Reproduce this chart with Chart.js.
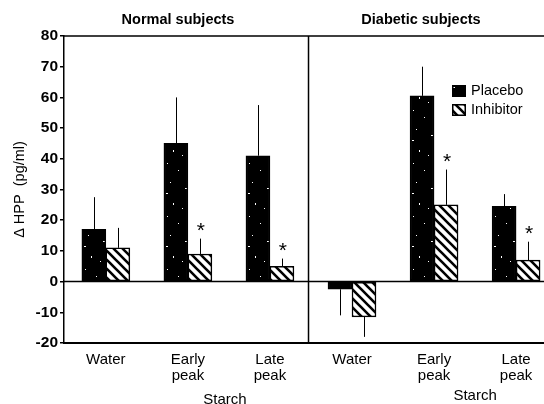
<!DOCTYPE html>
<html>
<head>
<meta charset="utf-8">
<script src="https://cdn.jsdelivr.net/npm/chart.js@4.4.1/dist/chart.umd.min.js"></script>
<style>
  html, body { margin: 0; padding: 0; background: #fff; }
</style>
</head>
<body>
<canvas id="hpp" width="544" height="404"></canvas>
<script>
// data
var categories = ['Water', ['Early', 'peak'], ['Late', 'peak'], 'Water', ['Early', 'peak'], ['Late', 'peak']];
var groups = ['Normal subjects', 'Diabetic subjects'];
var groupLabel = 'Starch';
var placebo = [17, 45, 41, -2.5, 60.5, 24.5];
var placeboErr = [10.5, 15, 16.5, 8.5, 9.5, 4];
var inhibitor = [11, 9, 5, -11.5, 25, 7];
var inhibitorErr = [6.5, 5, 2.5, 6.5, 11.5, 6];
var inhibitorSig = [false, true, true, false, true, true];
var yMin = -20, yMax = 80, yStep = 10;

var plain = '"Liberation Sans", Arial, sans-serif';

var ctx = document.getElementById('hpp').getContext('2d');

function speckle() {
    var w = 41, h = 53;
    var c = document.createElement('canvas');
    c.width = w; c.height = h;
    var g = c.getContext('2d');
    g.fillStyle = '#000';
    g.fillRect(0, 0, w, h);
    g.fillStyle = '#fff';
    [[3, 4, 1, 1], [27, 2, 2, 1], [14, 11, 1, 1], [35, 17, 1, 2], [6, 23, 1, 1], [21, 29, 2, 1],
     [31, 38, 1, 1], [9, 44, 1, 2], [18, 49, 1, 1], [38, 47, 1, 1], [25, 15, 1, 1], [2, 34, 2, 1]].forEach(function (p) {
        g.fillRect(p[0], p[1], p[2], p[3]);
    });
    return ctx.createPattern(c, 'repeat');
}

function hatch() {
    var s = 9;
    var c = document.createElement('canvas');
    c.width = s; c.height = s;
    var g = c.getContext('2d');
    g.fillStyle = '#fff';
    g.fillRect(0, 0, s, s);
    g.strokeStyle = '#000';
    g.lineWidth = 2.6;
    g.beginPath();
    g.moveTo(-2, -2); g.lineTo(s + 2, s + 2);
    g.moveTo(-2, s - 2); g.lineTo(2, s + 2);
    g.moveTo(s - 2, -2); g.lineTo(s + 2, 2);
    g.stroke();
    return ctx.createPattern(c, 'repeat');
}

var fills = [speckle(), hatch()];

var decor = {
    id: 'decor',
    afterDatasetsDraw: function (chart) {
        var c = chart.ctx, a = chart.chartArea, x = chart.scales.x, y = chart.scales.y;
        c.save();
        c.strokeStyle = '#000';

        // frame: top, zero line, panel divider
        c.lineWidth = 1.5;
        c.beginPath();
        c.moveTo(a.left, a.top); c.lineTo(a.right, a.top);
        var y0 = y.getPixelForValue(0);
        c.moveTo(a.left, y0); c.lineTo(a.right, y0);
        var xd = x.getPixelForValue(2.47);
        c.moveTo(xd, a.top); c.lineTo(xd, a.bottom);
        c.stroke();

        // error bars (one side only, away from zero)
        c.lineWidth = 1;
        [[placebo, placeboErr], [inhibitor, inhibitorErr]].forEach(function (s, di) {
            var meta = chart.getDatasetMeta(di);
            s[0].forEach(function (v, i) {
                var tip = v < 0 ? v - s[1][i] : v + s[1][i];
                var px = Math.round(meta.data[i].x) + 0.5;
                c.beginPath();
                c.moveTo(px, y.getPixelForValue(v));
                c.lineTo(px, y.getPixelForValue(tip));
                c.stroke();
            });
        });

        // significance stars
        c.fillStyle = '#000';
        c.font = '21px ' + plain;
        c.textAlign = 'center';
        c.textBaseline = 'alphabetic';
        var m = c.measureText('*');
        var mid = (m.actualBoundingBoxAscent - m.actualBoundingBoxDescent) / 2;
        var meta1 = chart.getDatasetMeta(1);
        inhibitorSig.forEach(function (sig, i) {
            if (!sig) return;
            var tip = y.getPixelForValue(inhibitor[i] + inhibitorErr[i]);
            c.fillText('*', meta1.data[i].x + 1, tip - 12 + mid);
        });

        // panel titles
        c.font = 'bold 14.5px ' + plain;
        c.textBaseline = 'middle';
        c.fillText(groups[0], 178, 20);
        c.fillText(groups[1], 421, 20);

        // "Starch" under the early/late pairs
        c.font = '15px ' + plain;
        var sx0 = (x.getPixelForValue(1) + x.getPixelForValue(2)) / 2 - 4;
        var sx1 = (x.getPixelForValue(4) + x.getPixelForValue(5)) / 2;
        c.fillText(groupLabel, sx0, 400);
        c.fillText(groupLabel, sx1, 395.5);

        // legend
        var names = ['Placebo', 'Inhibitor'];
        c.textAlign = 'left';
        c.font = '14.5px ' + plain;
        names.forEach(function (n, i) {
            var by = 85 + i * 19;
            c.fillStyle = fills[i];
            c.fillRect(452, by, 14, 12);
            c.lineWidth = 1.5;
            c.strokeRect(452.75, by + 0.75, 12.5, 10.5);
            c.fillStyle = '#000';
            c.fillText(n, 471, by + 6);
        });
        c.restore();
    }
};

new Chart(ctx, {
    type: 'bar',
    data: {
        datasets: [{
            label: 'Placebo',
            data: placebo.map(function (v, i) { return { x: i, y: v }; }),
            backgroundColor: fills[0],
            borderColor: '#000',
            borderWidth: 1.5,
            borderSkipped: false
        }, {
            label: 'Inhibitor',
            data: inhibitor.map(function (v, i) { return { x: i, y: v }; }),
            backgroundColor: fills[1],
            borderColor: '#000',
            borderWidth: 1.5,
            borderSkipped: false
        }]
    },
    options: {
        responsive: false,
        animation: false,
        barThickness: 24,
        layout: { padding: { top: 36, left: 0, right: 0, bottom: 0 } },
        plugins: { legend: { display: false }, tooltip: { enabled: false } },
        scales: {
            x: {
                type: 'linear',
                min: -0.51,
                max: 5.34,
                offset: false,
                afterBuildTicks: function (s) {
                    s.ticks = categories.map(function (c, i) { return { value: i }; });
                },
                afterFit: function (s) { s.height = 61; },
                grid: { display: false, drawTicks: false },
                border: { display: true, color: '#000', width: 2 },
                ticks: {
                    autoSkip: false,
                    maxRotation: 0,
                    padding: 9,
                    color: '#000',
                    font: { family: plain, size: 15, lineHeight: 1.07 },
                    callback: function (v) { return categories[v]; }
                }
            },
            y: {
                min: yMin,
                max: yMax,
                afterFit: function (s) { s.width = 64; },
                grid: { drawOnChartArea: false, drawTicks: true, tickLength: 4, color: '#000', lineWidth: 1.5 },
                border: { display: true, color: '#000', width: 1.5 },
                ticks: {
                    stepSize: yStep,
                    padding: 2,
                    color: '#000',
                    font: { family: plain, size: 15.5, weight: 'bold' }
                },
                title: {
                    display: true,
                    text: '\u0394 HPP  (pg/ml)',
                    color: '#000',
                    font: { family: plain, size: 14.5 },
                    padding: { top: 11, bottom: 0 }
                }
            }
        }
    },
    plugins: [decor]
});
</script>
</body>
</html>
